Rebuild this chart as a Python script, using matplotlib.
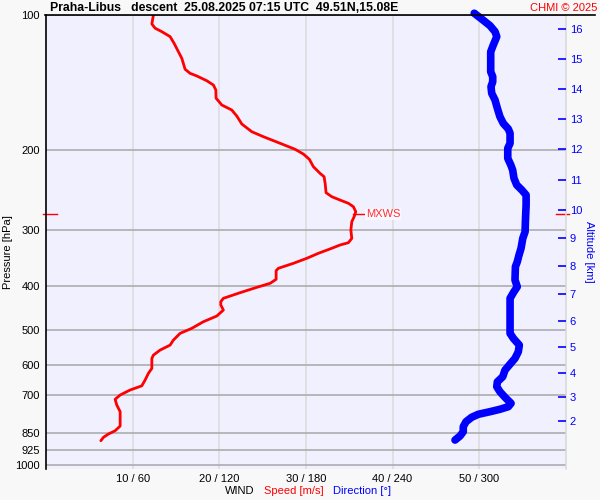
import matplotlib
matplotlib.use("Agg")
import matplotlib.pyplot as plt
from matplotlib.lines import Line2D
from matplotlib.ticker import NullLocator, NullFormatter

plt.rcParams['font.family'] = ['Liberation Sans', 'DejaVu Sans']

# ---------------- data ----------------
title = "Praha-Libus   descent  25.08.2025 07:15 UTC  49.51N,15.08E"

p_levels = [100, 200, 300, 400, 500, 600, 700, 850, 925, 1000]
speed_ticks = [10, 20, 30, 40, 50]
dir_ticks = [60, 120, 180, 240, 300]

alt_km = [2, 3, 4, 5, 6, 7, 8, 9, 10, 11, 12, 13, 14, 15, 16]
alt_p = [799.6, 706.2, 624.6, 547.6, 479.3, 416.9, 361.3, 313.6, 271.3,
         232.3, 198.9, 170.6, 146.3, 125.5, 107.4]

speed_p = [100.0, 104.7, 107.0, 108.9, 111.7, 115.6, 120.7, 124.8, 132.0, 134.8,
           136.6, 140.0, 143.1, 146.8, 153.1, 158.5, 162.6, 167.7, 174.7, 181.7,
           186.4, 192.8, 198.8, 203.7, 209.3, 217.4, 224.9, 228.8, 236.6, 248.3,
           253.4, 257.8, 262.1, 266.7, 273.6, 280.7, 288.0, 300.5, 313.6, 320.6,
           324.4, 329.9, 338.5, 347.3, 356.3, 365.5, 370.0, 386.7, 394.7, 402.9,
           414.1, 426.2, 433.6, 441.0, 452.5, 466.6, 480.4, 497.0, 509.9, 527.7,
           541.4, 555.5, 569.9, 579.6, 609.9, 625.7, 647.6, 666.9, 681.3, 699.0,
           714.5, 735.6, 761.3, 819.2, 839.3, 853.5, 868.0, 883.3]
speed_ms = [12.39, 12.21, 12.59, 13.36, 14.32, 14.78, 15.28, 15.67, 16.05, 16.63,
            17.40, 18.56, 19.32, 19.60, 19.63, 20.29, 21.44, 22.02, 22.60, 23.75,
            25.09, 27.02, 28.75, 29.71, 30.40, 30.87, 31.64, 32.10, 32.22, 32.33,
            32.99, 33.95, 34.91, 35.48, 35.76, 35.57, 35.30, 35.19, 35.30, 34.91,
            33.95, 32.99, 31.44, 30.10, 28.56, 26.82, 26.56, 26.56, 25.87, 24.33,
            22.40, 20.47, 20.17, 20.17, 20.47, 19.71, 18.16, 16.82, 15.47, 14.70,
            14.32, 13.16, 12.39, 12.21, 12.21, 11.81, 11.43, 11.05, 9.70, 8.55,
            7.97, 8.16, 8.55, 8.55, 7.97, 7.19, 6.62, 6.32]

dir_p = [99.1, 102.1, 105.6, 108.9, 111.7, 116.6, 120.7, 133.7, 137.1, 140.7,
         144.3, 149.3, 154.5, 161.2, 168.3, 174.1, 179.2, 183.2, 192.8, 197.8,
         208.2, 215.4, 221.1, 230.6, 238.6, 244.8, 251.2, 264.4, 288.0, 303.1,
         313.6, 329.9, 341.5, 353.4, 362.5, 388.0, 401.7, 411.9, 426.2, 452.5,
         509.9, 523.2, 541.4, 560.3, 579.6, 596.8, 615.3, 636.8, 653.4, 669.9,
         687.3, 707.3, 729.4, 742.0, 752.0, 761.3, 771.5, 783.5, 801.3, 822.1,
         843.4, 862.4, 880.2]
dir_deg = [296.7, 301.9, 307.6, 311.1, 312.3, 309.9, 308.1, 308.1, 309.5, 309.5,
           308.3, 308.8, 311.1, 312.7, 314.5, 316.8, 320.3, 321.5, 321.5, 319.9,
           319.9, 322.0, 323.3, 324.2, 326.1, 329.6, 332.6, 332.6, 332.1, 331.9,
           330.3, 329.1, 327.7, 326.5, 325.2, 324.9, 326.5, 324.2, 321.5, 321.5,
           321.5, 323.8, 327.9, 327.2, 324.9, 321.5, 318.0, 316.4, 312.7, 312.3,
           314.5, 318.0, 322.2, 320.3, 314.5, 307.6, 299.5, 294.9, 291.0, 289.1,
           289.1, 286.8, 283.4]

mxws_p = 277.0
mxws_speed = 35.6

# ---------------- figure ----------------
W, H = 600, 500
fig = plt.figure(figsize=(6, 5), dpi=100, facecolor='#f8f8f8')

def fx(px):
    return px / W

def fy(py):
    return 1 - py / H

left, right, top, bottom = 45.5, 565.7, 15, 469
ax = fig.add_axes([fx(left), fy(bottom), (right - left) / W, (bottom - top) / H])
ax.set_facecolor('#f0f0ff')
ax.set_yscale('log')
ax.set_ylim(1020.7, 100)
ax.set_xlim(-0.07, 60)

ax.yaxis.set_minor_locator(NullLocator())
ax.yaxis.set_minor_formatter(NullFormatter())
ax.set_yticks(p_levels)
ax.set_yticklabels([str(v) for v in p_levels])
ax.set_xticks(speed_ticks)
ax.set_xticklabels([f"{s} / {d}" for s, d in zip(speed_ticks, dir_ticks)])
ax.tick_params(axis='y', length=0, pad=4, labelsize=8)
ax.tick_params(axis='x', length=0, pad=3.5, labelsize=8)
ax.grid(axis='y', color='#a8a8a8', linewidth=1.1)
ax.grid(axis='x', color='#dcdcdc', linewidth=1.1)
ax.set_axisbelow(True)

for s in ['top', 'bottom']:
    ax.spines[s].set_visible(False)
ax.spines['left'].set_color('black')
ax.spines['left'].set_linewidth(1.2)
ax.spines['right'].set_color('#d8d8d8')
ax.spines['right'].set_linewidth(1.1)

# speed line
ax.plot(speed_ms, speed_p, color='#ff0000', linewidth=2.0,
        solid_capstyle='round', solid_joinstyle='round', zorder=3)

# MXWS markers
ytr = ax.get_yaxis_transform()
ax.plot([-2 / 520, 11 / 520], [mxws_p, mxws_p], color='#ff0000', lw=1.0,
        transform=ytr, clip_on=False)
ax.plot([1 - 10 / 520, 1 + 3 / 520], [mxws_p, mxws_p], color='#ff0000', lw=1.0,
        transform=ytr, clip_on=False)
ax.plot([mxws_speed - 0.2, mxws_speed + 1.2], [mxws_p, mxws_p], color='#ff0000', lw=1.0)
ax.text(mxws_speed + 1.3, mxws_p, 'MXWS', color='#ff3030', fontsize=8,
        va='center', ha='left',
        bbox=dict(boxstyle='square,pad=0.05', fc='#f8f8ff', ec='none'))

# direction axis
ax2 = ax.twiny()
ax2.set_xlim(0, 360)
ax2.set_xticks([])
for s in ax2.spines.values():
    s.set_visible(False)
ax2.plot(dir_deg, dir_p, color='#0000ff', linewidth=5.5,
         solid_capstyle='round', solid_joinstyle='round', clip_on=False, zorder=3)

# altitude axis
ax3 = ax.twinx()
ax3.set_yscale('log')
ax3.set_ylim(1020.7, 100)
ax3.yaxis.set_minor_locator(NullLocator())
ax3.yaxis.set_minor_formatter(NullFormatter())
ax3.set_yticks(alt_p)
ax3.set_yticklabels([str(a) for a in alt_km])
ax3.tick_params(axis='y', direction='in', length=6, width=1.2, color='#0000ff',
                labelcolor='#0000ff', labelsize=8, pad=3)
for s in ax3.spines.values():
    s.set_visible(False)

# top line
fig.add_artist(Line2D([fx(45), fx(595)], [fy(15), fy(15)], color='black', lw=1.2))

# texts
fig.text(fx(50), fy(8), title, fontsize=8.8, fontweight='bold', ha='left', va='center')
fig.text(fx(597), fy(8), 'CHMI © 2025', fontsize=8, color='#ff0000',
         ha='right', va='center')
fig.text(fx(8), fy(252), 'Pressure [hPa]', fontsize=8, rotation=90,
         ha='center', va='center')
fig.text(fx(589), fy(252), 'Altitude [km]', fontsize=8, rotation=270,
         color='#0000ff', ha='center', va='center')
fig.text(fx(225), fy(491), 'WIND', fontsize=8, ha='left', va='center')
fig.text(fx(264), fy(491), 'Speed [m/s]', fontsize=8, color='#ff0000',
         ha='left', va='center')
fig.text(fx(333), fy(491), 'Direction [°]', fontsize=8, color='#0000ff',
         ha='left', va='center')

fig.savefig('out.png', dpi=100, facecolor=fig.get_facecolor())
